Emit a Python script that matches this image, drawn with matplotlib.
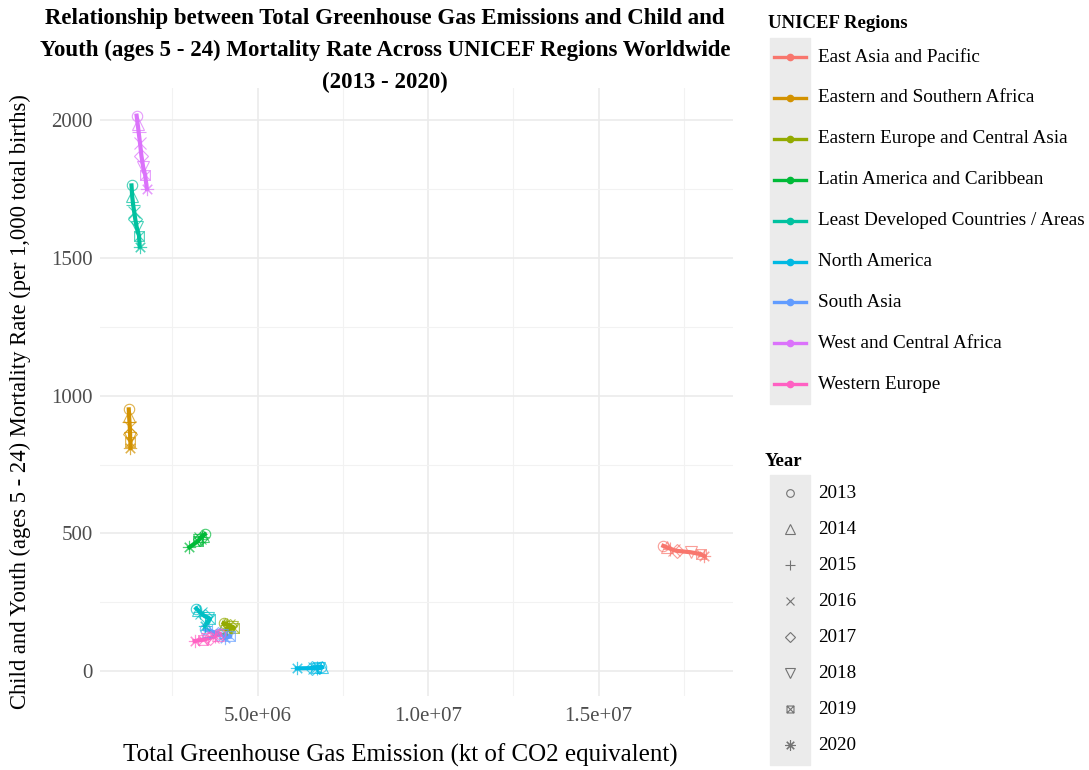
import matplotlib
matplotlib.use("Agg")
import matplotlib.pyplot as plt
from matplotlib.lines import Line2D
from matplotlib.patches import Rectangle
from matplotlib.path import Path
import numpy as np

# data (emissions in kt CO2e, mortality per 1,000)
years = [2013, 2014, 2015, 2016, 2017, 2018, 2019, 2020]

regions = ["East Asia and Pacific", "Eastern and Southern Africa",
           "Eastern Europe and Central Asia", "Latin America and Caribbean",
           "Least Developed Countries / Areas", "North America", "South Asia",
           "West and Central Africa", "Western Europe"]
colors = ["#F8766D", "#D39200", "#93AA00", "#00BA38", "#00C19F",
          "#00B9E3", "#619CFF", "#DB72FB", "#FF61C3"]

eap_x = [1.69e7, 1.70e7, 1.71e7, 1.72e7, 1.73e7, 1.77e7, 1.80e7, 1.81e7]
eap_y = [455, 450, 445, 440, 437, 432, 425, 418]
esa_x = [1.22e6, 1.23e6, 1.24e6, 1.25e6, 1.26e6, 1.26e6, 1.27e6, 1.27e6]
esa_y = [950, 925, 905, 885, 860, 845, 830, 810]
eeca_x = [4.0e6, 4.05e6, 4.1e6, 4.15e6, 4.2e6, 4.25e6, 4.3e6, 4.1e6]
eeca_y = [175, 172, 170, 168, 165, 162, 158, 155]
lac_x = [3.45e6, 3.4e6, 3.36e6, 3.32e6, 3.3e6, 3.27e6, 3.24e6, 3.0e6]
lac_y = [497, 492, 488, 485, 480, 476, 472, 450]
ldc_x = [1.30e6, 1.32e6, 1.35e6, 1.38e6, 1.41e6, 1.45e6, 1.52e6, 1.54e6]
ldc_y = [1762, 1722, 1690, 1665, 1640, 1612, 1580, 1540]
na_x = [6.85e6, 6.9e6, 6.75e6, 6.65e6, 6.6e6, 6.8e6, 6.7e6, 6.15e6]
na_y = [15, 15, 14, 14, 13, 13, 12, 11]
sa_x = [3.45e6, 3.55e6, 3.65e6, 3.75e6, 3.85e6, 3.95e6, 4.2e6, 4.05e6]
sa_y = [152, 148, 145, 141, 137, 133, 128, 122]
wca_x = [1.45e6, 1.48e6, 1.51e6, 1.55e6, 1.59e6, 1.64e6, 1.70e6, 1.75e6]
wca_y = [2015, 1985, 1955, 1915, 1870, 1830, 1800, 1750]
we_x = [3.9e6, 3.85e6, 3.75e6, 3.7e6, 3.6e6, 3.5e6, 3.4e6, 3.15e6]
we_y = [135, 132, 128, 125, 122, 118, 115, 110]
# cyan cluster without its own legend entry
oth_x = [3.2e6, 3.25e6, 3.3e6, 3.35e6, 3.45e6, 3.55e6, 3.6e6, 3.45e6]
oth_y = [228, 222, 215, 210, 200, 195, 190, 165]

xs = [eap_x, esa_x, eeca_x, lac_x, ldc_x, na_x, sa_x, wca_x, we_x]
ys = [eap_y, esa_y, eeca_y, lac_y, ldc_y, na_y, sa_y, wca_y, we_y]

# year shapes (ggplot shapes 1, 2, 3, 4, 5, 6, 7, 8)
box_x = Path([(-1, -1), (1, -1), (1, 1), (-1, 1), (-1, -1),
              (-1, -1), (1, 1), (-1, 1), (1, -1)],
             [Path.MOVETO, Path.LINETO, Path.LINETO, Path.LINETO, Path.CLOSEPOLY,
              Path.MOVETO, Path.LINETO, Path.MOVETO, Path.LINETO])
shapes = ["o", "^", "+", "x", "D", "v", box_x, (8, 2, 0)]
sizes = [7.5, 8.5, 9.5, 8, 7.5, 8.5, 7, 9.5]

serif = "Liberation Serif"
W, H = 1089, 770
fig = plt.figure(figsize=(W / 100, H / 100), dpi=100)
ax = fig.add_axes([100 / W, 1 - 696 / H, 633 / W, 608 / H])

all_x = sum(xs, []) + oth_x
all_y = sum(ys, []) + oth_y
dx = (max(all_x) - min(all_x)) * 0.05
dy = (max(all_y) - min(all_y)) * 0.05

def draw(x, y, c):
    ax.plot(x, y, color=c, lw=3, zorder=2)
    for i in range(len(years)):
        ax.plot(x[i], y[i], ls="none", marker=shapes[i], ms=sizes[i],
                mfc="none", mec=c, mew=0.8, alpha=0.7, zorder=3)

for x, y, c in zip(xs, ys, colors):
    draw(x, y, c)
draw(oth_x, oth_y, "#00BFC4")

ax.set_xlim(min(all_x) - dx, max(all_x) + dx)
ax.set_ylim(min(all_y) - dy, max(all_y) + dy)
ax.set_xticks([5e6, 1e7, 1.5e7])
ax.set_xticklabels([f"{v:.1e}" for v in [5e6, 1e7, 1.5e7]])
ax.set_xticks([2.5e6, 7.5e6, 1.25e7, 1.75e7], minor=True)
ax.set_yticks([0, 500, 1000, 1500, 2000])
ax.set_yticks([250, 750, 1250, 1750], minor=True)
ax.grid(True, which="major", color="#EBEBEB", lw=1.2)
ax.grid(True, which="minor", color="#F2F2F2", lw=0.8)
ax.set_axisbelow(True)
for s in ax.spines.values():
    s.set_visible(False)
ax.tick_params(which="both", length=0, labelsize=15, labelcolor="#4D4D4D",
               pad=5)
ax.tick_params(axis="x", pad=8)
for lab in ax.get_xticklabels() + ax.get_yticklabels():
    lab.set_family(serif)
ax.set_xlabel("Total Greenhouse Gas Emission (kt of CO2 equivalent)",
              family=serif, fontsize=18, va="center")
ax.xaxis.set_label_coords((400 - 100) / 633, (696 - 755) / 608)
ax.set_ylabel("Child and Youth (ages 5 - 24) Mortality Rate (per 1,000 total births)",
              family=serif, fontsize=16.3, va="center")
ax.yaxis.set_label_coords((20 - 100) / 633, (696 - 402) / 608)

fig.text(385 / W, 1 - 8 / H,
         "Relationship between Total Greenhouse Gas Emissions and Child and\n"
         "Youth (ages 5 - 24) Mortality Rate Across UNICEF Regions Worldwide\n"
         "(2013 - 2020)", ha="center", va="top", family=serif,
         fontsize=16.5, fontweight="bold", linespacing=1.68)

# manual legends
def fx(px):
    return px / W

def fy(py):
    return 1 - py / H

fig.text(fx(768), fy(24), "UNICEF Regions", family=serif, fontsize=13.5,
         fontweight="bold", va="center")
fig.add_artist(Rectangle((fx(770), fy(404)), fx(40), 366 / H,
                         transform=fig.transFigure, color="#EBEBEB", zorder=0))
for i, (r, c) in enumerate(zip(regions, colors)):
    yy = fy(57 + i * 40.9)
    fig.add_artist(Line2D([fx(774), fx(806)], [yy, yy], color=c, lw=2.4,
                          transform=fig.transFigure))
    fig.add_artist(Line2D([fx(790)], [yy], color=c, marker="o", ms=4.5,
                          transform=fig.transFigure))
    fig.text(fx(818), yy, r, family=serif, fontsize=13.8, va="center")

fig.text(fx(765), fy(462), "Year", family=serif, fontsize=13.5,
         fontweight="bold", va="center")
fig.add_artist(Rectangle((fx(770), fy(765)), fx(40), 290 / H,
                         transform=fig.transFigure, color="#EBEBEB", zorder=0))
for i, yr in enumerate(years):
    yy = fy(493 + i * 36)
    fig.add_artist(Line2D([fx(790)], [yy], ls="none", marker=shapes[i],
                          ms=sizes[i] - 2, mfc="none", mec="#555555", mew=0.8,
                          alpha=0.8, transform=fig.transFigure))
    fig.text(fx(818), yy, str(yr), family=serif, fontsize=13.8, va="center")

fig.savefig("out.png", dpi=100, facecolor="white")
